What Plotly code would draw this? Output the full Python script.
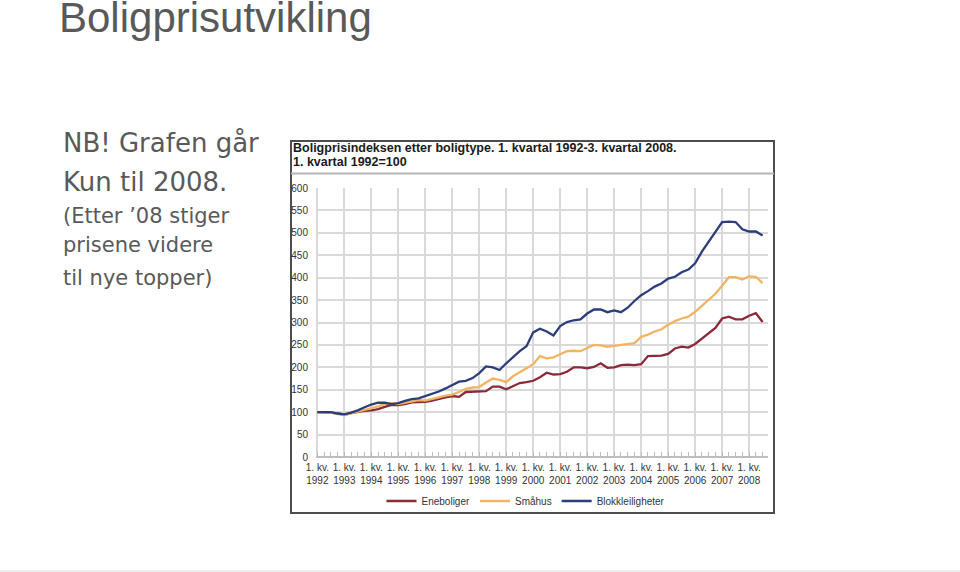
import plotly.graph_objects as go

W, H = 960, 572

years = list(range(1992, 2009))
quarters = [f"{y}K{q}" for y in years for q in (1, 2, 3, 4)][:67]  # 1992K1 .. 2008K3

eneboliger = [
    100, 100, 99, 97,
    94, 98, 101, 103,
    104, 107, 112, 116,
    116, 118, 122, 123,
    123, 126, 130, 133,
    136, 134, 145, 146,
    146, 147, 157, 157,
    151, 158, 165, 167,
    170, 178, 188, 184,
    185, 190, 200, 200,
    198, 201, 209, 199,
    200, 205, 206, 205,
    207, 225, 226, 226,
    230, 242, 246, 244,
    252, 264, 276, 288,
    309, 313, 307, 307,
    315, 321, 301,
]

smaahus = [
    100, 100, 99, 96,
    93, 97, 101, 105,
    108, 113, 118, 120,
    118, 121, 125, 127,
    126, 129, 133, 137,
    139, 145, 152, 155,
    156, 166, 175, 172,
    167, 180, 190, 198,
    207, 225, 220, 222,
    229, 236, 237, 236,
    243, 250, 249, 246,
    248, 250, 252, 254,
    268, 273, 280, 285,
    295, 303, 309, 313,
    324, 338, 352, 364,
    382, 401, 401, 396,
    403, 402, 388,
]

blokk = [
    100, 100, 100, 97,
    95, 99, 104, 111,
    117, 121, 121, 118,
    120, 125, 129, 131,
    136, 142, 146, 153,
    160, 168, 170, 176,
    187, 202, 200, 194,
    209, 223, 236, 247,
    278, 286, 280, 271,
    292, 301, 305, 307,
    320, 329, 329, 323,
    327, 323, 333, 348,
    361, 370, 380, 387,
    398, 402, 412, 418,
    432, 458, 480, 500,
    524, 525, 524, 508,
    503, 503, 494,
]

series_names = ["Eneboliger", "Småhus", "Blokkleiligheter"]
series_colors = ["#8a2a38", "#f2b462", "#2b3d7a"]

year_ticks = [quarters.index(f"{y}K1") for y in years]
year_labels = [f"1. kv.<br>{y}" for y in years]
y_ticks = list(range(0, 601, 50))

x_idx = list(range(len(quarters)))


def px(x):
    return x / W


def py(y):
    return 1 - y / H


fig = go.Figure()
for name, vals, col in zip(series_names, [eneboliger, smaahus, blokk], series_colors):
    fig.add_trace(go.Scatter(
        x=x_idx, y=vals, mode="lines", name=name,
        line=dict(color=col, width=2.3),
        hoverinfo="skip",
    ))

CH = "Liberation Sans, Arial, sans-serif"
fig.update_layout(
    width=W, height=H,
    margin=dict(l=0, r=0, t=0, b=0, autoexpand=False),
    paper_bgcolor="white",
    plot_bgcolor="white",
    showlegend=True,
    legend=dict(
        orientation="h", x=px(526), y=py(501), xanchor="center", yanchor="middle",
        font=dict(family=CH, size=10, color="#333"),
        itemwidth=30, bgcolor="rgba(0,0,0,0)",
        tracegroupgap=0,
    ),
    xaxis=dict(
        domain=[px(316), px(768)],
        range=[-0.2, 66.8],
        automargin=False,
        tickmode="array", tickvals=year_ticks, ticktext=year_labels,
        showgrid=True, gridcolor="#d9d9d9", gridwidth=1.5,
        ticks="", showline=False, zeroline=False,
        tickfont=dict(family=CH, size=10, color="#333"),
        ticklabelstandoff=3,
        minor=dict(dtick=1, tick0=0, ticks="inside", ticklen=5,
                   tickcolor="#bdbdbd", tickwidth=1, showgrid=False),
        fixedrange=True,
    ),
    yaxis=dict(
        domain=[py(457), py(188)],
        range=[0, 600],
        automargin=False,
        tickmode="array", tickvals=y_ticks,
        showgrid=True, gridcolor="#d9d9d9", gridwidth=1.5,
        zeroline=True, zerolinecolor="#bdbdbd", zerolinewidth=1.5,
        ticks="", showline=False,
        tickfont=dict(family=CH, size=10, color="#333"),
        ticklabelstandoff=7,
        fixedrange=True,
    ),
)

# Chart image frame
fig.add_shape(type="rect", xref="paper", yref="paper",
              x0=px(291), x1=px(774), y0=py(513), y1=py(141),
              line=dict(color="#4d4d4d", width=2), fillcolor="rgba(0,0,0,0)", layer="below")
fig.add_shape(type="line", xref="paper", yref="paper",
              x0=px(291), x1=px(774), y0=py(173.5), y1=py(173.5),
              line=dict(color="#b5b5b5", width=2))
# faint page bottom line
fig.add_shape(type="line", xref="paper", yref="paper",
              x0=0, x1=1, y0=py(571), y1=py(571),
              line=dict(color="#eeeeee", width=2))

# Chart titles
fig.add_annotation(xref="paper", yref="paper", x=px(291), y=py(148),
                   xanchor="left", yanchor="middle", showarrow=False,
                   text="<b>Boligprisindeksen etter boligtype. 1. kvartal 1992-3. kvartal 2008.</b>",
                   font=dict(family=CH, size=12.5, color="#1a1a1a"))
fig.add_annotation(xref="paper", yref="paper", x=px(291), y=py(162),
                   xanchor="left", yanchor="middle", showarrow=False,
                   text="<b>1. kvartal 1992=100</b>",
                   font=dict(family=CH, size=12.5, color="#1a1a1a"))

# Slide title
fig.add_annotation(xref="paper", yref="paper", x=px(57), y=py(17.5),
                   xanchor="left", yanchor="middle", showarrow=False,
                   text="Boligprisutvikling",
                   font=dict(family=CH, size=42, color="#595959"))

BODY = "DejaVu Sans, Verdana, sans-serif"
body_lines = [
    ("NB! Grafen går", 26, 143.5),
    ("Kun til 2008.", 26, 182),
    ("(Etter ’08 stiger", 21, 215.5),
    ("prisene videre", 21, 245.5),
    ("til nye topper)", 21, 277.5),
]
for txt, sz, yc in body_lines:
    fig.add_annotation(xref="paper", yref="paper", x=px(61), y=py(yc),
                       xanchor="left", yanchor="middle", showarrow=False,
                       text=txt, font=dict(family=BODY, size=sz, color="#595959"))

fig.write_html("out.html")
